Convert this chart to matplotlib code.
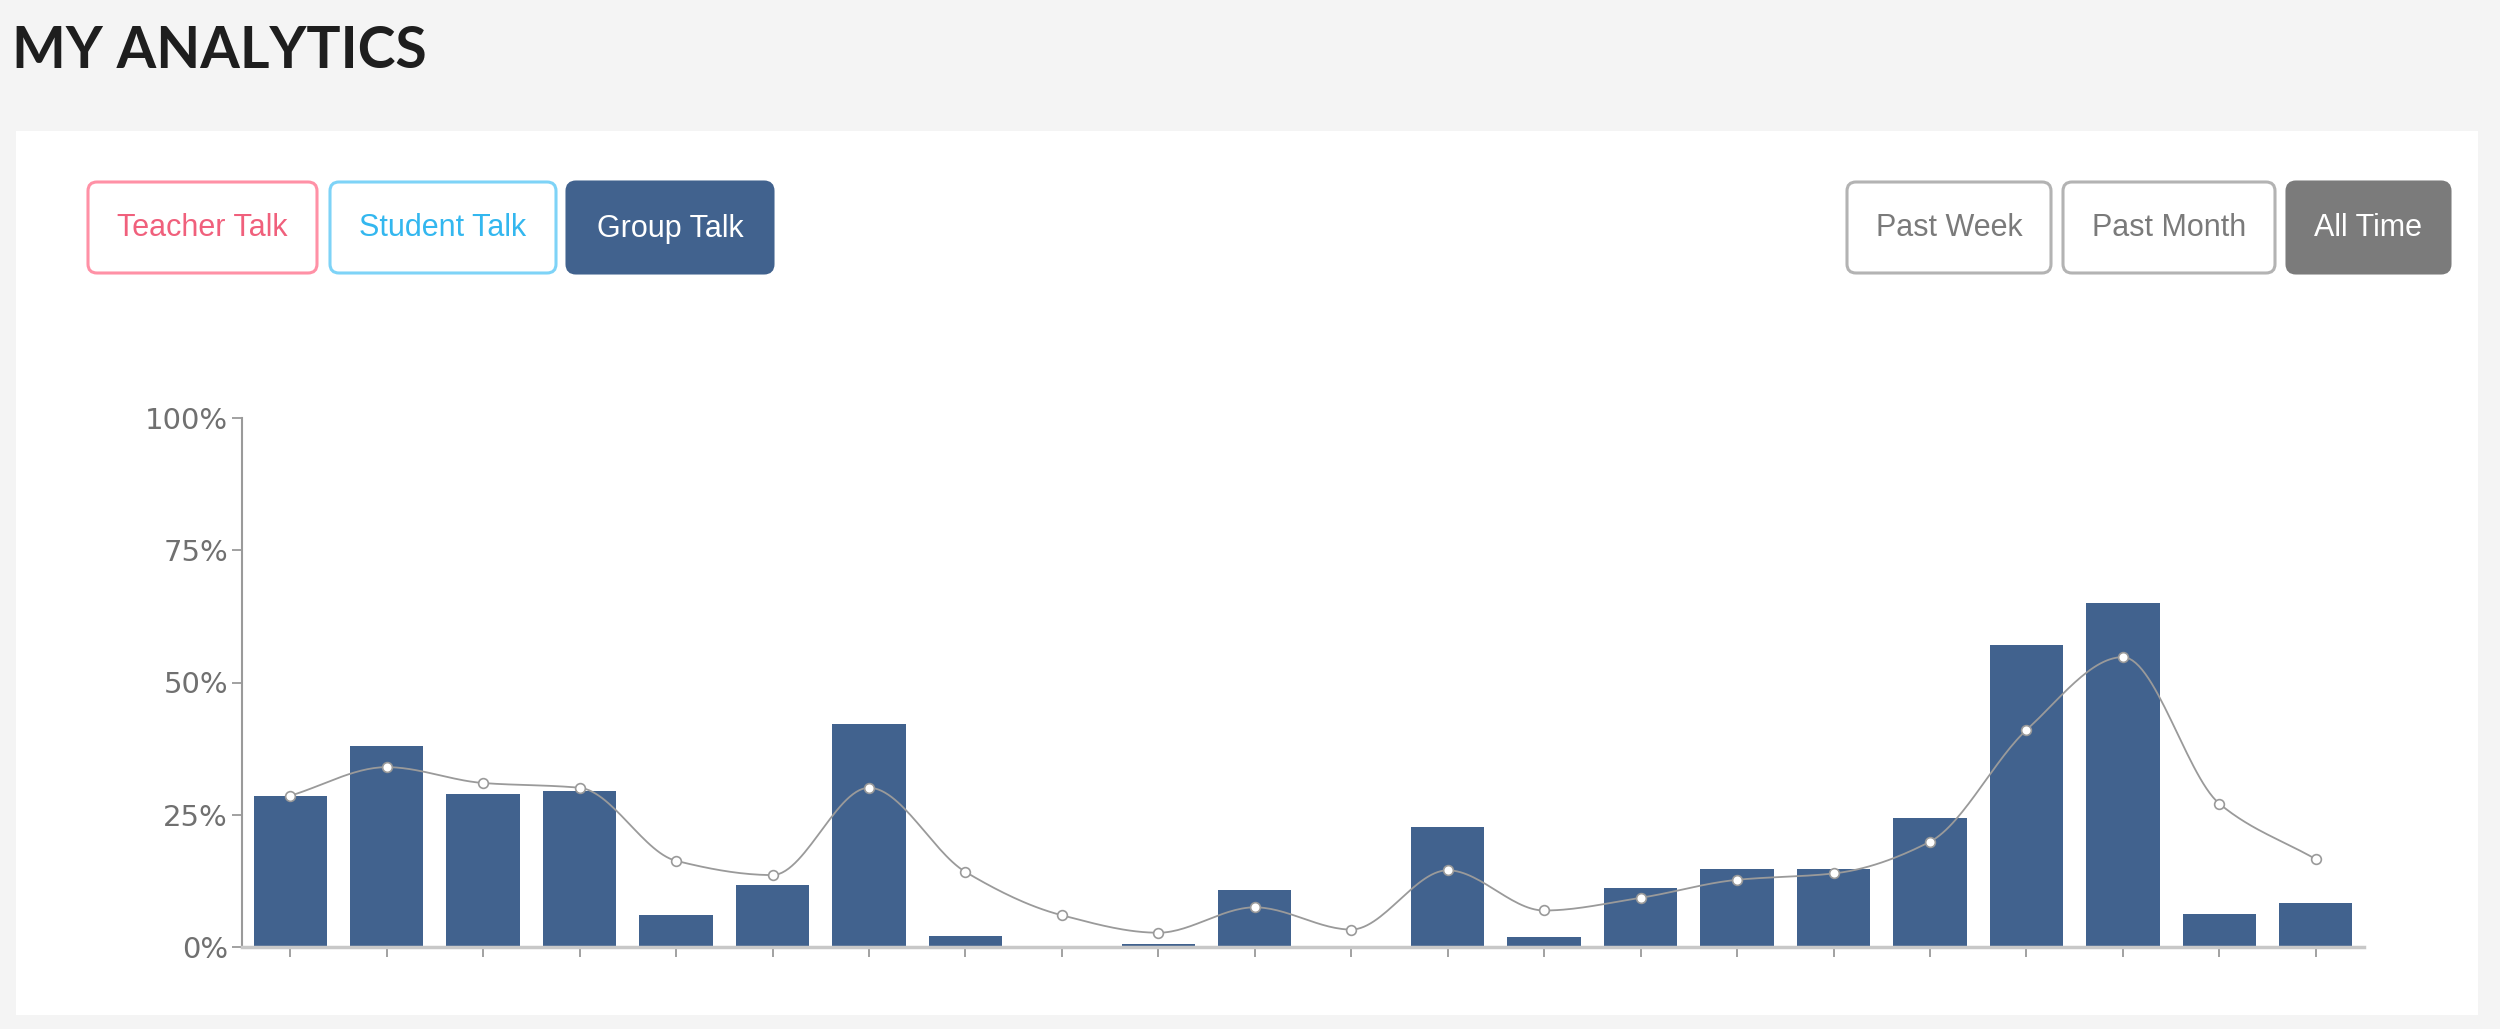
import numpy as np
import matplotlib
matplotlib.use("Agg")
import matplotlib.pyplot as plt
from matplotlib.patches import FancyBboxPatch, Rectangle

# Data (percent)
categories = list(range(1, 23))
bar_values = [28.6, 38.0, 28.9, 29.5, 6.0, 11.7, 42.2, 2.1, 0.0, 0.5, 10.8,
              0.0, 22.6, 1.8, 11.1, 14.8, 14.8, 24.4, 57.0, 65.0, 6.3, 8.4]
trend_values = [28.6, 34.0, 31.0, 30.1, 16.3, 13.6, 30.1, 14.2, 6.0, 2.7, 7.5,
                3.3, 14.5, 6.9, 9.3, 12.7, 13.9, 19.9, 41.0, 54.8, 27.1, 16.6]
y_ticks = [0, 25, 50, 75, 100]
y_labels = ["0%", "25%", "50%", "75%", "100%"]
talk_buttons = ["Teacher Talk", "Student Talk", "Group Talk"]
period_buttons = ["Past Week", "Past Month", "All Time"]

W, H = 2500, 1029
BAR_COLOR = "#41628e"


def monotone_curve(x, y, steps=30):
    """Monotone cubic curve through the points, like d3's curveMonotoneX."""
    x = np.asarray(x, float)
    y = np.asarray(y, float)
    h = np.diff(x)
    d = np.diff(y) / h
    m = np.zeros_like(y)
    m[0], m[-1] = d[0], d[-1]
    for i in range(1, len(y) - 1):
        if d[i - 1] * d[i] > 0:
            m[i] = 2 / (1 / d[i - 1] + 1 / d[i])
    xs, ys = [], []
    for i in range(len(x) - 1):
        t = np.linspace(0, 1, steps, endpoint=False)
        h00 = 2 * t**3 - 3 * t**2 + 1
        h10 = t**3 - 2 * t**2 + t
        h01 = -2 * t**3 + 3 * t**2
        h11 = t**3 - t**2
        xs.append(x[i] + t * h[i])
        ys.append(h00 * y[i] + h10 * h[i] * m[i] + h01 * y[i + 1] + h11 * h[i] * m[i + 1])
    xs.append([x[-1]])
    ys.append([y[-1]])
    return np.concatenate(xs), np.concatenate(ys)


fig = plt.figure(figsize=(W / 100, H / 100), dpi=100)
fig.patch.set_facecolor("#f4f4f4")

# overlay in pixel units for the page decoration
bg = fig.add_axes([0, 0, 1, 1])
bg.set_xlim(0, W)
bg.set_ylim(H, 0)
bg.axis("off")

bg.add_patch(Rectangle((16, 131), 2462, 884, facecolor="white", edgecolor="none"))
bg.text(12, 52, "MY ANALYTICS", fontsize=41, family="Lato", weight="bold",
        color="#1e1e1e", va="center", ha="left")


def button(x0, x1, label, edge, text_color, fill="white"):
    y0, y1 = 182, 273
    bg.add_patch(FancyBboxPatch((x0, y0), x1 - x0, y1 - y0,
                                boxstyle="round,pad=0,rounding_size=9",
                                facecolor=fill, edgecolor=edge, linewidth=2.2))
    bg.text((x0 + x1) / 2, (y0 + y1) / 2 + 1, label, fontsize=22,
            family="Liberation Sans", color=text_color, ha="center", va="center")


button(88, 317, talk_buttons[0], "#ff91a6", "#f0607c")
button(330, 556, talk_buttons[1], "#7ed3f7", "#33b7ef")
button(567, 773, talk_buttons[2], BAR_COLOR, "white", fill=BAR_COLOR)
button(1847, 2051, period_buttons[0], "#b3b3b3", "#7a7a7a")
button(2063, 2275, period_buttons[1], "#b3b3b3", "#7a7a7a")
button(2287, 2450, period_buttons[2], "#7b7b7b", "white", fill="#7b7b7b")

# chart axes
left, right, top, bottom = 242, 2364, 418, 947
ax = fig.add_axes([left / W, 1 - bottom / H, (right - left) / W, (bottom - top) / H])
ax.patch.set_alpha(0)

x = np.arange(len(categories))
ax.bar(x, bar_values, width=0.76, color=BAR_COLOR, zorder=2)

cx, cy = monotone_curve(x, trend_values)
ax.plot(cx, cy, color="#9a9a9a", lw=1.3, zorder=3)
ax.plot(x, trend_values, "o", ms=7, mfc="white", mec="#9a9a9a", mew=1.2, zorder=4)

ax.set_xlim(-0.5, len(categories) - 0.5)
ax.set_ylim(0, 100)
ax.set_yticks(y_ticks)
ax.set_yticklabels(y_labels)
ax.set_xticks(x)
ax.set_xticklabels([])

for s in ["top", "right"]:
    ax.spines[s].set_visible(False)
ax.spines["left"].set_color("#9a9a9a")
ax.spines["left"].set_linewidth(1.5)
ax.spines["bottom"].set_color("#c8c8c8")
ax.spines["bottom"].set_linewidth(2.5)
ax.spines["bottom"].set_zorder(5)
ax.tick_params(axis="y", length=7, width=1.3, color="#9a9a9a", labelsize=21,
               labelcolor="#707070", pad=3)
ax.tick_params(axis="x", length=7, width=1.3, color="#9a9a9a")
for lab in ax.get_yticklabels():
    lab.set_family("DejaVu Sans")

fig.savefig("out.png", dpi=100, facecolor=fig.get_facecolor())
